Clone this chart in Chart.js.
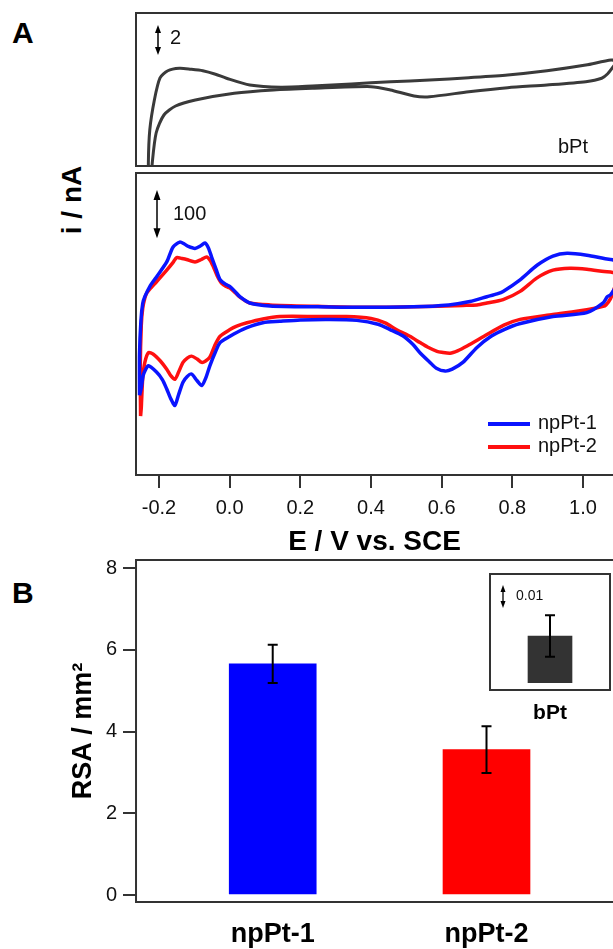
<!DOCTYPE html>
<html><head><meta charset="utf-8">
<script src="https://cdn.jsdelivr.net/npm/chart.js@4.4.0/dist/chart.umd.min.js"></script>
<style>
html,body{margin:0;padding:0;background:#fff;width:613px;height:949px;overflow:hidden;position:relative;}
canvas{position:absolute;display:block;}
.lbl{position:absolute;font-family:"Liberation Sans",Arial,Helvetica,sans-serif;font-weight:bold;color:#000;line-height:1;white-space:nowrap;}
</style></head><body>
<div class="lbl" style="left:12px;top:18px;font-size:30px">A</div>
<div class="lbl" style="left:12px;top:578px;font-size:30px">B</div>
<div class="lbl" style="left:71.7px;top:200px;font-size:28px;transform:translate(-50%,-50%) rotate(-90deg)">i / nA</div>
<canvas id="cA1" width="613" height="170" style="left:0;top:0"></canvas>
<canvas id="cA2" width="613" height="386" style="left:0;top:170px"></canvas>
<canvas id="cB" width="613" height="450" style="left:0;top:520px"></canvas>
<canvas id="cIn" width="133" height="180" style="left:480px;top:560px"></canvas>
<script>
// ---------------- DATA ----------------
const xTicksA = [-0.2, 0.0, 0.2, 0.4, 0.6, 0.8, 1.0];

const bPt_E = [-0.228,-0.230,-0.226,-0.213,-0.197,-0.175,-0.142,-0.110,-0.076,-0.040,-0.009,0.057,0.145,0.234,0.345,0.455,0.566,0.677,0.787,0.898,1.008,1.080,1.095,
  1.085,1.070,1.053,1.008,0.898,0.787,0.677,0.566,0.522,0.455,0.400,0.234,0.124,0.013,-0.097,-0.153,-0.186,-0.208,-0.219,-0.222];
const bPt_I = [-6.5,-5.2,-3.0,-1.0,0.47,0.95,1.11,1.05,0.95,0.72,0.45,0,-0.15,-0.07,0.07,0.22,0.33,0.49,0.67,0.95,1.33,1.67,1.55,
  1.2,0.75,0.45,0.22,0,-0.18,-0.45,-0.78,-0.73,-0.33,-0.11,-0.22,-0.33,-0.55,-1.0,-1.4,-2.0,-3.2,-5.2,-6.5];

const npPt1_E = [-0.255,-0.255,-0.251,-0.246,-0.240,-0.226,-0.207,-0.178,-0.160,-0.141,-0.128,-0.117,-0.098,-0.083,-0.070,-0.060,-0.051,-0.038,-0.027,-0.012,0.001,0.015,0.029,0.057,0.114,0.25,0.38,0.52,0.62,0.68,0.728,0.757,0.774,0.822,0.870,0.915,0.955,1.011,1.060,1.085,1.100,
  1.092,1.078,1.069,1.057,1.011,0.915,0.82,0.78,0.74,0.70,0.66,0.63,0.61,0.585,0.567,0.54,0.519,0.49,0.454,0.42,0.36,0.284,0.2,0.142,0.094,0.049,0.02,0.001,-0.027,-0.04,-0.056,-0.068,-0.079,-0.092,-0.108,-0.12,-0.132,-0.145,-0.155,-0.166,-0.178,-0.19,-0.207,-0.230,-0.240,-0.245,-0.250,-0.255];
const npPt1_I = [-175,-90,-20,15,29,50,70,101,132,142,138,133,129,134,140,130,111,85,64,55,50,40,29,16,10,8,7,8,12,19,29,35,40,64,94,113,119,115,108,105,95,
  50,33,29,16,-4,-12,-27,-38,-53,-76,-107,-121,-125,-119,-107,-88,-70,-52,-39,-28,-20,-18,-19,-22,-25,-35,-45,-53,-66,-85,-114,-140,-155,-145,-131,-136,-148,-175,-196,-183,-162,-143,-127,-114,-125,-135,-160,-175];

const npPt2_E = [-0.252,-0.253,-0.250,-0.246,-0.240,-0.235,-0.222,-0.207,-0.178,-0.160,-0.150,-0.135,-0.122,-0.098,-0.080,-0.065,-0.055,-0.046,-0.035,-0.023,-0.010,0.001,0.015,0.029,0.057,0.114,0.25,0.377,0.52,0.66,0.70,0.728,0.774,0.822,0.870,0.915,0.963,1.011,1.060,1.085,1.100,
  1.088,1.078,1.065,1.057,1.011,0.915,0.822,0.776,0.72,0.672,0.645,0.624,0.60,0.587,0.56,0.539,0.51,0.474,0.44,0.40,0.33,0.25,0.142,0.094,0.049,0.02,0.001,-0.027,-0.042,-0.056,-0.068,-0.079,-0.092,-0.108,-0.12,-0.132,-0.145,-0.155,-0.166,-0.178,-0.196,-0.216,-0.230,-0.240,-0.246,-0.250,-0.252];
const npPt2_I = [-218,-120,-30,5,26,36,48,60,84,100,110,108,106,101,106,111,104,91,72,57,50,47,38,28,16,12,9,7,8,11,12,16,23,40,68,84,88,86,81,79,72,
  45,25,12,9,2,-8,-18,-30,-53,-73,-83,-88,-86,-84,-75,-66,-53,-40,-25,-16,-12,-12,-12,-17,-25,-32,-39,-53,-72,-96,-104,-107,-100,-94,-98,-107,-128,-142,-135,-121,-104,-90,-87,-107,-140,-200,-218];

const seriesNames = ['npPt-1', 'npPt-2'];
const categories = ['npPt-1', 'npPt-2'];
const rsa = [5.66, 3.56];
const rsaErr = [0.47, 0.57];
const rsaTicks = [0, 2, 4, 6, 8];
const insetCategory = ['bPt'];
const insetRsa = [0.0203];
const insetErr = [0.009];
const scaleBarTop = [2, 4];        // nA (bPt panel): "2"
const scaleBarBottom = [150, 250]; // nA (npPt panel): "100"
const scaleBarInset = [0.0325, 0.0425]; // "0.01"

// ---------------- HELPERS ----------------
const FONT = '"Liberation Sans", Arial, Helvetica, sans-serif';
Chart.defaults.font.family = FONT;
Chart.defaults.color = '#000';
const zip = (xs, ys) => xs.map((x, i) => ({x, y: ys[i]}));
const X_MIN = -0.265, X_MAX = 1.085;

function frame(ctx, a, closeRight) {
  ctx.save(); ctx.strokeStyle = '#333'; ctx.lineWidth = 2;
  ctx.beginPath();
  const R = closeRight ? a.right : a.right + 10;
  ctx.moveTo(R, a.top); ctx.lineTo(a.left, a.top); ctx.lineTo(a.left, a.bottom); ctx.lineTo(R, a.bottom);
  if (closeRight) ctx.closePath();
  ctx.stroke(); ctx.restore();
}
function dblArrow(ctx, x, yTop, yBot, hw, hl, lw) {
  ctx.save(); ctx.fillStyle = '#000'; ctx.strokeStyle = '#000'; ctx.lineWidth = lw;
  ctx.beginPath(); ctx.moveTo(x, yTop + hl * 0.8); ctx.lineTo(x, yBot - hl * 0.8); ctx.stroke();
  ctx.beginPath(); ctx.moveTo(x, yTop); ctx.lineTo(x - hw, yTop + hl); ctx.lineTo(x + hw, yTop + hl); ctx.closePath(); ctx.fill();
  ctx.beginPath(); ctx.moveTo(x, yBot); ctx.lineTo(x - hw, yBot - hl); ctx.lineTo(x + hw, yBot - hl); ctx.closePath(); ctx.fill();
  ctx.restore();
}
function txt(ctx, s, x, y, size, weight, align) {
  ctx.save(); ctx.fillStyle = '#111'; ctx.font = (weight || '') + ' ' + size + 'px ' + FONT;
  ctx.textAlign = align || 'left'; ctx.textBaseline = 'middle'; ctx.fillText(s, x, y); ctx.restore();
}
const lineDs = (data, color, w) => ({data, borderColor: color, borderWidth: w, pointRadius: 0, tension: 0.25, fill: false, clip: 0});

// ---------------- PANEL A (top, bPt) ----------------
new Chart(document.getElementById('cA1'), {
  type: 'line',
  data: {datasets: [lineDs(zip(bPt_E, bPt_I), '#3a3a3a', 3)]},
  options: {
    responsive: false, devicePixelRatio: 1, animation: false,
    layout: {padding: {left: 136, top: 13, right: 0, bottom: 4}},
    plugins: {legend: {display: false}, tooltip: {enabled: false}},
    scales: {x: {type: 'linear', min: X_MIN, max: X_MAX, display: false}, y: {min: -5.4, max: 4.8, display: false}}
  },
  plugins: [{id: 'decoA1', afterDraw(c) {
    const ctx = c.ctx, a = c.chartArea, y = c.scales.y;
    frame(ctx, a, false);
    const y1 = y.getPixelForValue(scaleBarTop[1]), y2 = y.getPixelForValue(scaleBarTop[0]);
    dblArrow(ctx, a.left + 22, y1, y2, 3, 8, 1.5);
    txt(ctx, String(scaleBarTop[1] - scaleBarTop[0]), a.left + 34, (y1 + y2) / 2 - 2, 20, '', 'left');
    txt(ctx, 'bPt', a.right - 55, a.bottom - 19, 20, '', 'left');
  }}]
});

// ---------------- PANEL A (bottom, npPt) ----------------
new Chart(document.getElementById('cA2'), {
  type: 'line',
  data: {datasets: [
    Object.assign(lineDs(zip(npPt1_E, npPt1_I), '#0a14ff', 3.5), {label: seriesNames[0]}),
    Object.assign(lineDs(zip(npPt2_E, npPt2_I), '#ff1010', 3.5), {label: seriesNames[1]})
  ]},
  options: {
    responsive: false, devicePixelRatio: 1, animation: false,
    layout: {padding: {left: 136, top: 3, right: 0, bottom: 0}},
    plugins: {legend: {display: false}, tooltip: {enabled: false}},
    scales: {
      x: {type: 'linear', min: X_MIN, max: X_MAX,
        afterBuildTicks: s => { s.ticks = xTicksA.map(v => ({value: v})); },
        ticks: {autoSkip: false, maxRotation: 0, padding: 8, color: '#111', font: {size: 20}, callback: v => Number(v).toFixed(1)},
        grid: {display: true, drawOnChartArea: false, drawTicks: true, tickLength: 13, color: '#333', lineWidth: 2},
        border: {display: false},
        title: {display: true, text: 'E / V vs. SCE', color: '#000', font: {size: 28, weight: 'bold', lineHeight: 1}, padding: {top: 0, bottom: 0}}
      },
      y: {min: -340, max: 285, display: false}
    }
  },
  plugins: [{id: 'decoA2', afterDraw(c) {
    const ctx = c.ctx, a = c.chartArea, y = c.scales.y;
    frame(ctx, a, false);
    const y1 = y.getPixelForValue(scaleBarBottom[1]), y2 = y.getPixelForValue(scaleBarBottom[0]);
    dblArrow(ctx, a.left + 21, y1, y2, 3.5, 10, 1.5);
    txt(ctx, String(scaleBarBottom[1] - scaleBarBottom[0]), a.left + 37, (y1 + y2) / 2, 20, '', 'left');
    // legend
    const cols = ['#0a14ff', '#ff1010'];
    seriesNames.forEach((n, i) => {
      const ly = a.bottom - 51 + i * 23;
      ctx.save(); ctx.strokeStyle = cols[i]; ctx.lineWidth = 4;
      ctx.beginPath(); ctx.moveTo(488, ly); ctx.lineTo(530, ly); ctx.stroke(); ctx.restore();
      txt(ctx, n, 538, ly - 1, 20, '', 'left');
    });
  }}]
});

// ---------------- PANEL B (bars) ----------------
new Chart(document.getElementById('cB'), {
  type: 'bar',
  data: {datasets: [{data: zip(categories.map((_, i) => i + 1), rsa), backgroundColor: ['#0000ff', '#ff0000'], borderWidth: 0, barThickness: 87}]},
  options: {
    responsive: false, devicePixelRatio: 1, animation: false,
    layout: {padding: {left: 67.5, top: 40, right: 0, bottom: 2}},
    plugins: {legend: {display: false}, tooltip: {enabled: false}},
    scales: {
      x: {type: 'linear', offset: false, min: 0.3606, max: 2.5917,
        afterBuildTicks: s => { s.ticks = categories.map((_, i) => ({value: i + 1})); },
        ticks: {autoSkip: false, maxRotation: 0, padding: 16.8, color: '#000', font: {size: 27, weight: 'bold'}, callback: v => categories[Math.round(v) - 1]},
        grid: {display: false, drawTicks: false},
        border: {display: false}
      },
      y: {min: -0.171, max: 8.203,
        afterBuildTicks: s => { s.ticks = rsaTicks.map(v => ({value: v})); },
        ticks: {padding: 6, color: '#111', font: {size: 20}},
        grid: {display: true, drawOnChartArea: false, drawTicks: true, tickLength: 13, color: '#333', lineWidth: 2},
        border: {display: false},
        title: {display: true, text: 'RSA / mm²', color: '#000', font: {size: 27, weight: 'bold'}, padding: {top: 0, bottom: 0}}
      }
    }
  },
  plugins: [{id: 'decoB', afterDraw(c) {
    const ctx = c.ctx, a = c.chartArea, x = c.scales.x, y = c.scales.y;
    frame(ctx, a, false);
    ctx.save(); ctx.strokeStyle = '#000'; ctx.lineWidth = 2;
    rsa.forEach((v, i) => {
      const px = x.getPixelForValue(i + 1), yt = y.getPixelForValue(v + rsaErr[i]), yb = y.getPixelForValue(v - rsaErr[i]);
      ctx.beginPath(); ctx.moveTo(px, yt); ctx.lineTo(px, yb);
      ctx.moveTo(px - 5, yt); ctx.lineTo(px + 5, yt); ctx.moveTo(px - 5, yb); ctx.lineTo(px + 5, yb); ctx.stroke();
    });
    ctx.restore();
  }}]
});

// ---------------- INSET (bPt) ----------------
new Chart(document.getElementById('cIn'), {
  type: 'bar',
  data: {labels: insetCategory, datasets: [{data: insetRsa, backgroundColor: '#333333', borderWidth: 0, barThickness: 44}]},
  options: {
    responsive: false, devicePixelRatio: 1, animation: false,
    layout: {padding: {left: 10, top: 14, right: 3, bottom: 4}},
    plugins: {legend: {display: false}, tooltip: {enabled: false}},
    scales: {
      x: {ticks: {padding: 10.4, color: '#000', font: {size: 21, weight: 'bold'}}, grid: {display: false, drawTicks: false}, border: {display: false}},
      y: {min: -0.0032, max: 0.0473, display: false}
    }
  },
  plugins: [{id: 'decoIn', afterDraw(c) {
    const ctx = c.ctx, a = c.chartArea, x = c.scales.x, y = c.scales.y;
    frame(ctx, a, true);
    ctx.save(); ctx.strokeStyle = '#000'; ctx.lineWidth = 2;
    insetRsa.forEach((v, i) => {
      const px = x.getPixelForValue(i), yt = y.getPixelForValue(v + insetErr[i]), yb = y.getPixelForValue(v - insetErr[i]);
      ctx.beginPath(); ctx.moveTo(px, yt); ctx.lineTo(px, yb);
      ctx.moveTo(px - 5, yt); ctx.lineTo(px + 5, yt); ctx.moveTo(px - 5, yb); ctx.lineTo(px + 5, yb); ctx.stroke();
    });
    ctx.restore();
    const y1 = y.getPixelForValue(scaleBarInset[1]), y2 = y.getPixelForValue(scaleBarInset[0]);
    dblArrow(ctx, a.left + 13, y1, y2, 2.5, 7, 1.3);
    txt(ctx, (scaleBarInset[1] - scaleBarInset[0]).toFixed(2), a.left + 26, (y1 + y2) / 2, 14, '', 'left');
  }}]
});
</script>
</body></html>
